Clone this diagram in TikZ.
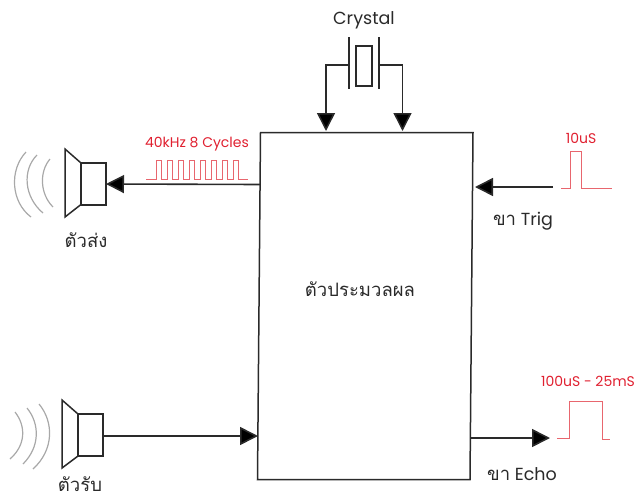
\documentclass[tikz,border=0pt]{standalone}
\usepackage{fontspec}
\setmainfont{Poppins}
\newfontfamily\thaifont[Script=Thai]{Loma}
\usetikzlibrary{arrows.meta}
\definecolor{ink}{HTML}{2A2A2A}
\definecolor{pulsered}{HTML}{E8666E}
\definecolor{labelred}{HTML}{E02030}
\definecolor{wavegray}{HTML}{A8A8A8}
\tikzset{
  x=1pt,y=-1pt,
  shapeline/.style={draw=ink,line width=1.5pt,line join=miter},
  conn/.style={draw=ink,line width=1.6pt,-{Triangle[length=18pt,width=18pt,fill=black]}},
  lead/.style={draw=ink,line width=1.5pt},
  pulse/.style={draw=pulsered,line width=1pt},
  wave/.style={draw=wavegray,line width=1.2pt},
  lbl/.style={text=ink,font=\thaifont\fontsize{18.5}{20}\selectfont,inner sep=0pt,anchor=base},
  latlbl/.style={text=ink,font=\fontsize{17.5}{20}\selectfont,inner sep=0pt,anchor=base},
  redlbl/.style={text=labelred,font=\fontsize{14}{16}\selectfont,inner sep=0pt,anchor=base},
}
\begin{document}
\begin{tikzpicture}
\useasboundingbox (0,0) rectangle (640,498);
% main block
\coordinate (mTL) at (260.5,132.5);
\coordinate (mTR) at (473,132.5);
\coordinate (mBR) at (470,479.5);
\coordinate (mBL) at (257.5,479.5);
\draw[shapeline] (mTL)--(mTR)--(mBR)--(mBL)--cycle;
\node[lbl] (main) at (360,296) {ตัวประมวลผล};
% transmitter
\coordinate (txIn) at (106,184);
\draw[shapeline] (81,163) rectangle (106,205);
\draw[shapeline] (81,163)--(65,149)--(65,217)--(81,204.5);
\draw[wave] (50,159) .. controls (39,172) and (40,194) .. (53,207);
\draw[wave] (37,155) .. controls (22,170) and (24,197) .. (43,213);
\draw[wave] (26,152) .. controls (9,170) and (11,202) .. (31,217);
\node[lbl] (txlabel) at (86,247) {ตัวส่ง};
\coordinate (mTx) at (260,184.5);
\draw[conn] (mTx) -- (txIn);
% transmitter burst
\node[redlbl] (burstlabel) at (197,147) {40kHz 8 Cycles};
\draw[pulse] (146,179.5) -- (156,179.5) -- (156,160) -- (161,160) -- (161,179.5)
  -- (167,179.5) -- (167,160) -- (172,160) -- (172,179.5)
  -- (178,179.5) -- (178,160) -- (183,160) -- (183,179.5)
  -- (189,179.5) -- (189,160) -- (194,160) -- (194,179.5)
  -- (200,179.5) -- (200,160) -- (205,160) -- (205,179.5)
  -- (211,179.5) -- (211,160) -- (216,160) -- (216,179.5)
  -- (222,179.5) -- (222,160) -- (227,160) -- (227,179.5)
  -- (233,179.5) -- (233,160) -- (238,160) -- (238,179.5) -- (248,179.5);
% receiver
\coordinate (rxOut) at (103,436);
\draw[shapeline] (78,414) rectangle (103,456);
\draw[shapeline] (78,414)--(62,400)--(62,468)--(78,456);
\draw[wave] (15,412) .. controls (26,426) and (26,445) .. (10,459);
\draw[wave] (27,408) .. controls (40,424) and (40,447) .. (23,464);
\draw[wave] (39,404) .. controls (54,422) and (54,450) .. (33,469);
\node[lbl] (rxlabel) at (80,491) {ตัวรับ};
\coordinate (mRx) at (258,436);
\draw[conn] (rxOut) -- (mRx);
% crystal
\node[latlbl] (crystal) at (364,24) {Crystal};
\coordinate (xA) at (349,65);
\coordinate (xB) at (379,65);
\draw[lead] (349,37)--(349,89);
\draw[lead] (379,37)--(379,89);
\draw[shapeline] (356,46) rectangle (372,86);
\coordinate (mXa) at (326,131);
\coordinate (mXb) at (402.5,131);
\draw[conn,line width=1.5pt] (xA) -| (mXa);
\draw[conn,line width=1.5pt] (xB) -| (mXb);
% trig
\coordinate (trigStart) at (553,187);
\coordinate (mTrig) at (475,187);
\draw[conn] (trigStart) -- (mTrig);
\node[redlbl] (triglabel) at (581,143) {10uS};
\draw[pulse] (561,188) -- (570.5,188) -- (570.5,151) -- (581.5,151) -- (581.5,188) -- (612,188);
\node[latlbl] (trigname) at (523,225) {{\thaifont\fontsize{18.5}{20}\selectfont ขา} Trig};
% echo
\coordinate (mEcho) at (470,438);
\coordinate (echoEnd) at (550,438);
\draw[conn] (mEcho) -- (echoEnd);
\node[redlbl] (echolabel) at (588,386) {100uS - 25mS};
\draw[pulse] (557,438) -- (569,438) -- (569,401) -- (602,401) -- (602,439) -- (610,439);
\node[latlbl] (echoname) at (522,480) {{\thaifont\fontsize{18.5}{20}\selectfont ขา} Echo};
\end{tikzpicture}
\end{document}
